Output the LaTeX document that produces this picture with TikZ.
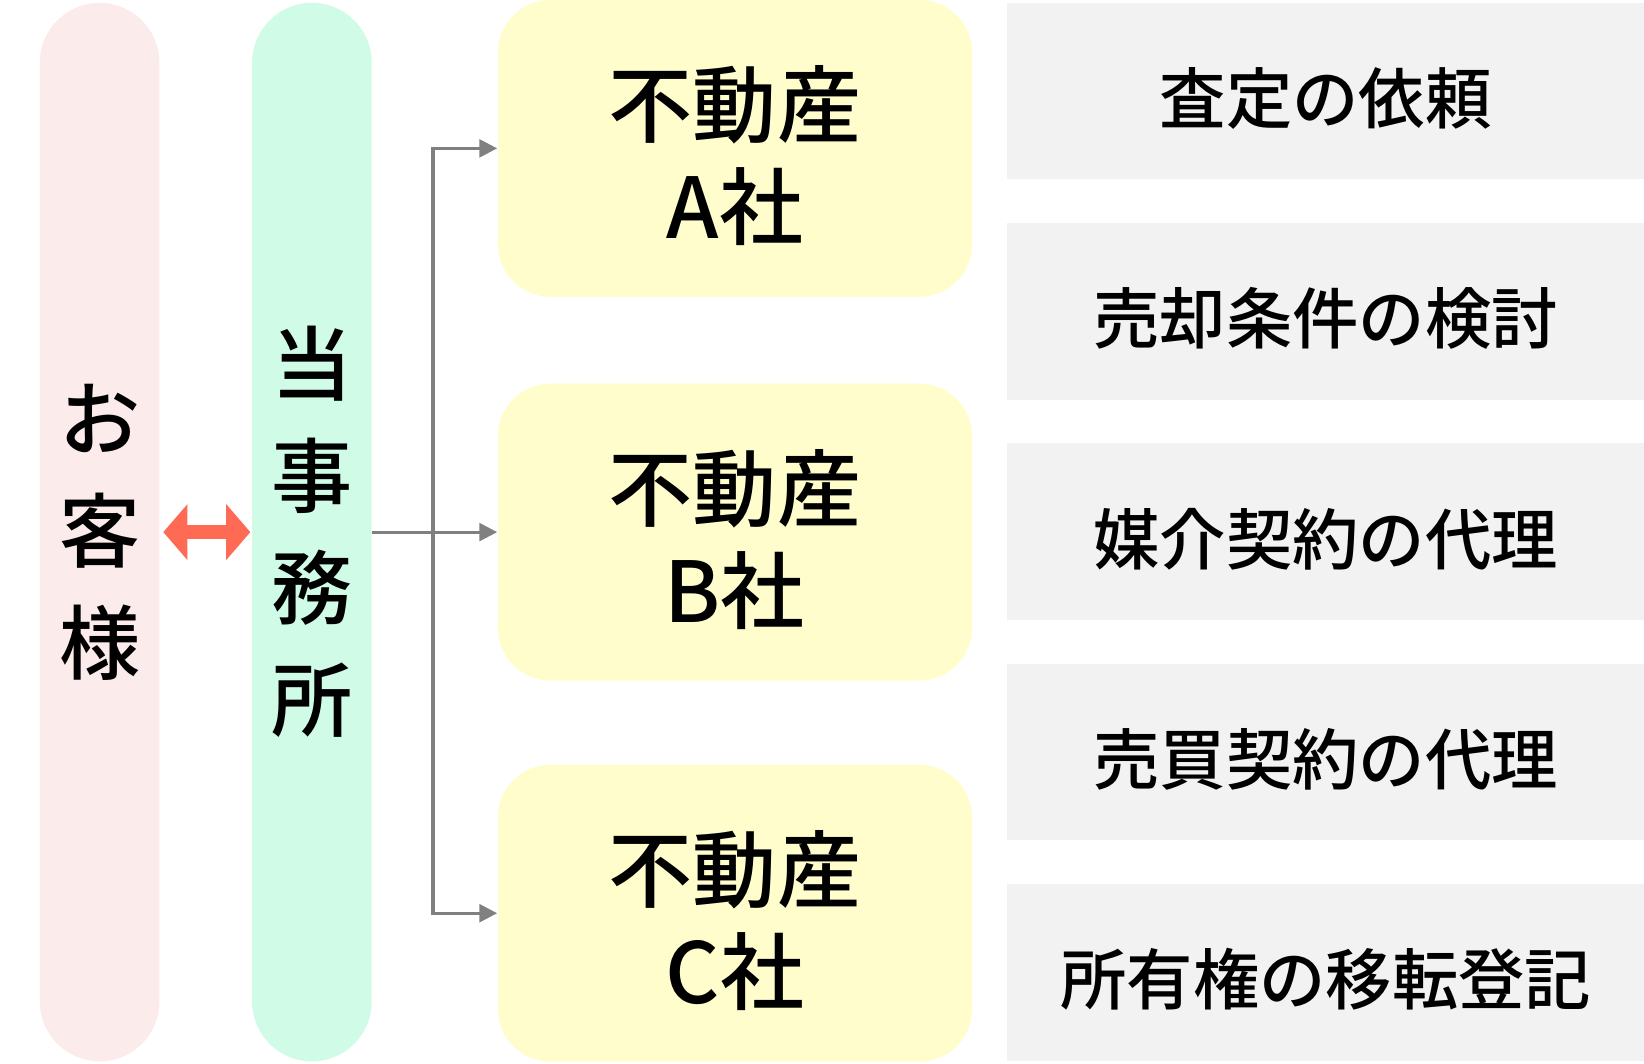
\documentclass[tikz,border=0pt]{standalone}
\usepackage{fontspec}
\setmainfont{Noto Sans CJK JP Medium}
\usetikzlibrary{positioning,arrows.meta}

\definecolor{custfill}{HTML}{FCEBEB}
\definecolor{officefill}{HTML}{D0FBE6}
\definecolor{firmfill}{HTML}{FFFDCC}
\definecolor{taskfill}{HTML}{F2F2F2}
\definecolor{linkred}{HTML}{FF6A55}
\definecolor{linkgray}{HTML}{808080}

\begin{document}
\begin{tikzpicture}[x=0.01cm,y=-0.01cm]
  \useasboundingbox (0,0) rectangle (1568,1014);
  \begin{scope}[every node/.style={
      fill,inner sep=0pt,align=center,
      minimum width=1.14cm,minimum height=10.09cm,rounded corners=0.57cm,
      font=\fontsize{22pt}{30.4pt}\selectfont}]
    \node[fill=custfill] (custPill) at (95,507.5) {お\\客\\様};
    \node[fill=officefill] (officePill) at (297.5,507.5) {当\\事\\務\\所};
  \end{scope}
  \begin{scope}[every node/.style={
      fill=firmfill,inner sep=0pt,align=center,
      minimum width=4.52cm,minimum height=2.83cm,rounded corners=0.5cm,
      text height=51.7pt,text depth=2.7pt,
      font=\fontsize{22.8pt}{27.6pt}\selectfont}]
    \node (firmA) at (701,141.5) {不動産\\A社};
    \node (firmB) at (701,507.5) {不動産\\B社};
    \node (firmC) at (701,871) {不動産\\C社};
  \end{scope}
  \begin{scope}[every node/.style={
      fill=taskfill,inner sep=0pt,
      minimum width=6.07cm,minimum height=1.68cm,
      text height=19.8pt,text depth=2.2pt,
      font=\fontsize{18pt}{22pt}\selectfont}]
    \node (taskA) at (1264.5,87) {査定の依頼};
    \node (taskB) at (1264.5,297) {売却条件の検討};
    \node (taskC) at (1264.5,507) {媒介契約の代理};
    \node (taskD) at (1264.5,717) {売買契約の代理};
    \node (taskE) at (1264.5,927.5) {所有権の移転登記};
  \end{scope}
  \begin{scope}[
    every path/.style={draw=linkgray,line width=0.85pt},
    link/.style={-{Triangle[width=0.17cm,length=0.17cm]}},
    ]
    \coordinate (split) at (413,507.5);
    \path (officePill.east) -- (split);
    \path[link] (split) -- (firmB.west);
    \path[link] (split) |- (firmA.west);
    \path[link] (split) |- (firmC.west);
  \end{scope}
  \draw[linkred,line width=3.7pt,
    {Triangle[width=0.52cm,length=0.23cm]}-{Triangle[width=0.52cm,length=0.23cm]}]
    ([xshift=0.03cm]custPill.east) -- ([xshift=-0.01cm]officePill.west);
\end{tikzpicture}
\end{document}
